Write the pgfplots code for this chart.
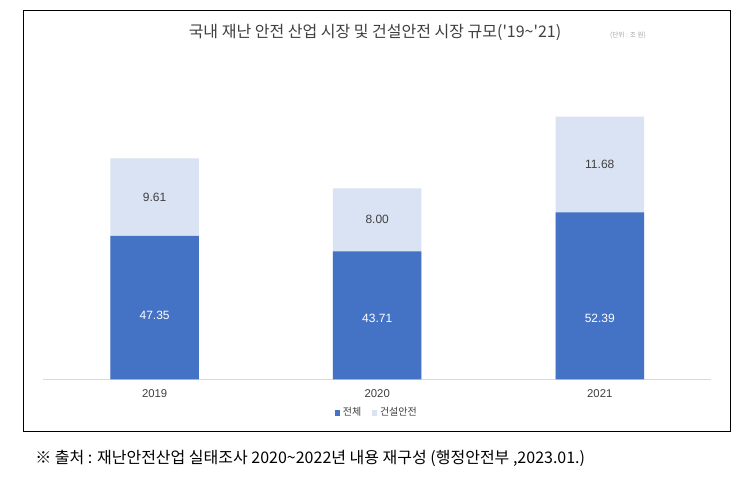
\documentclass[border=0pt]{standalone}
\usepackage{fontspec}
\setmainfont{Liberation Sans}
\newfontfamily\kr{Noto Sans CJK KR}
\usepackage{pgfplots}
\pgfplotsset{compat=1.18}
\usepackage{pgfplotstable}
\definecolor{dkblue}{HTML}{4472C4}
\definecolor{ltblue}{HTML}{DAE3F3}
\definecolor{txt}{HTML}{404040}
\definecolor{axgray}{HTML}{D9D9D9}

% heights as drawn (px above baseline), label positions, labels as printed
\pgfplotstableread{
x total constr totpos conpos totlab conlab
0 143.3 77.7 64 182 47.35 9.61
1 128.0 63.0 61 160 43.71 8.00
2 167.0 95.6 61 215 52.39 11.68
}\data

\begin{document}
\begin{tikzpicture}
\fill[white] (0,0) rectangle (564.75pt,357.75pt);
\draw[line width=0.75pt] (17.5pt,33.75pt) rectangle (547.7pt,349.7pt);
\node[font=\kr\fontsize{12}{14}\selectfont, text=txt] at (281.25pt,333.75pt) {국내 재난 안전 산업 시장 및 건설안전 시장 규모('19\textasciitilde'21)};
\node[font=\kr\fontsize{5}{6}\selectfont, text=gray!70] at (471pt,331.5pt) {(단위 : 조 원)};
\node[font=\kr\fontsize{12}{14}\selectfont, anchor=west, inner sep=0pt] at (26.25pt,14.25pt) {※ 출처 : 재난안전산업 실태조사 2020\textasciitilde 2022년 내용 재구성 (행정안전부 ,2023.01.)};
\begin{axis}[
  at={(32.5pt,73.3pt)}, anchor=south west,
  scale only axis, width=500.8pt, height=225pt,
  xmin=-0.5, xmax=2.5, ymin=0, ymax=300,
  ybar, bar width=66.4pt, bar shift=0pt,
  axis x line*=bottom, axis y line=none,
  x axis line style={draw=axgray, line width=0.75pt, -},
  xtick={0,1,2}, xticklabels={2019,2020,2021},
  xtick style={draw=none}, ytick=\empty,
  tick label style={font=\fontsize{8.5}{10}\selectfont, text=txt},
  clip=false,
  legend style={at={(0.5,-0.112)}, anchor=center, draw=none, fill=none,
    legend columns=2, font=\kr\fontsize{7.5}{9}\selectfont, text=txt,
    /tikz/every even column/.append style={column sep=6pt}},
  legend image code/.code={\fill[#1, draw=none] (0pt,-2pt) rectangle (4pt,2pt);},
]
\addplot[fill=ltblue, draw=none, forget plot] table[x=x, y expr=\thisrow{total}+\thisrow{constr}] \data;
\addplot[fill=dkblue, draw=none, forget plot] table[x=x, y=total] \data;
\addplot[draw=none, fill=none, forget plot, nodes near coords, point meta=explicit symbolic,
  nodes near coords align=center,
  every node near coord/.append style={anchor=center, font=\fontsize{9}{10}\selectfont, text=white}]
  table[x=x, y=totpos, meta=totlab] \data;
\addplot[draw=none, fill=none, forget plot, nodes near coords, point meta=explicit symbolic,
  nodes near coords align=center,
  every node near coord/.append style={anchor=center, font=\fontsize{9}{10}\selectfont, text=txt}]
  table[x=x, y=conpos, meta=conlab] \data;
\addlegendimage{fill=dkblue, draw=none}
\addlegendentry{전체}
\addlegendimage{fill=ltblue, draw=none}
\addlegendentry{건설안전}
\end{axis}
\end{tikzpicture}
\end{document}
